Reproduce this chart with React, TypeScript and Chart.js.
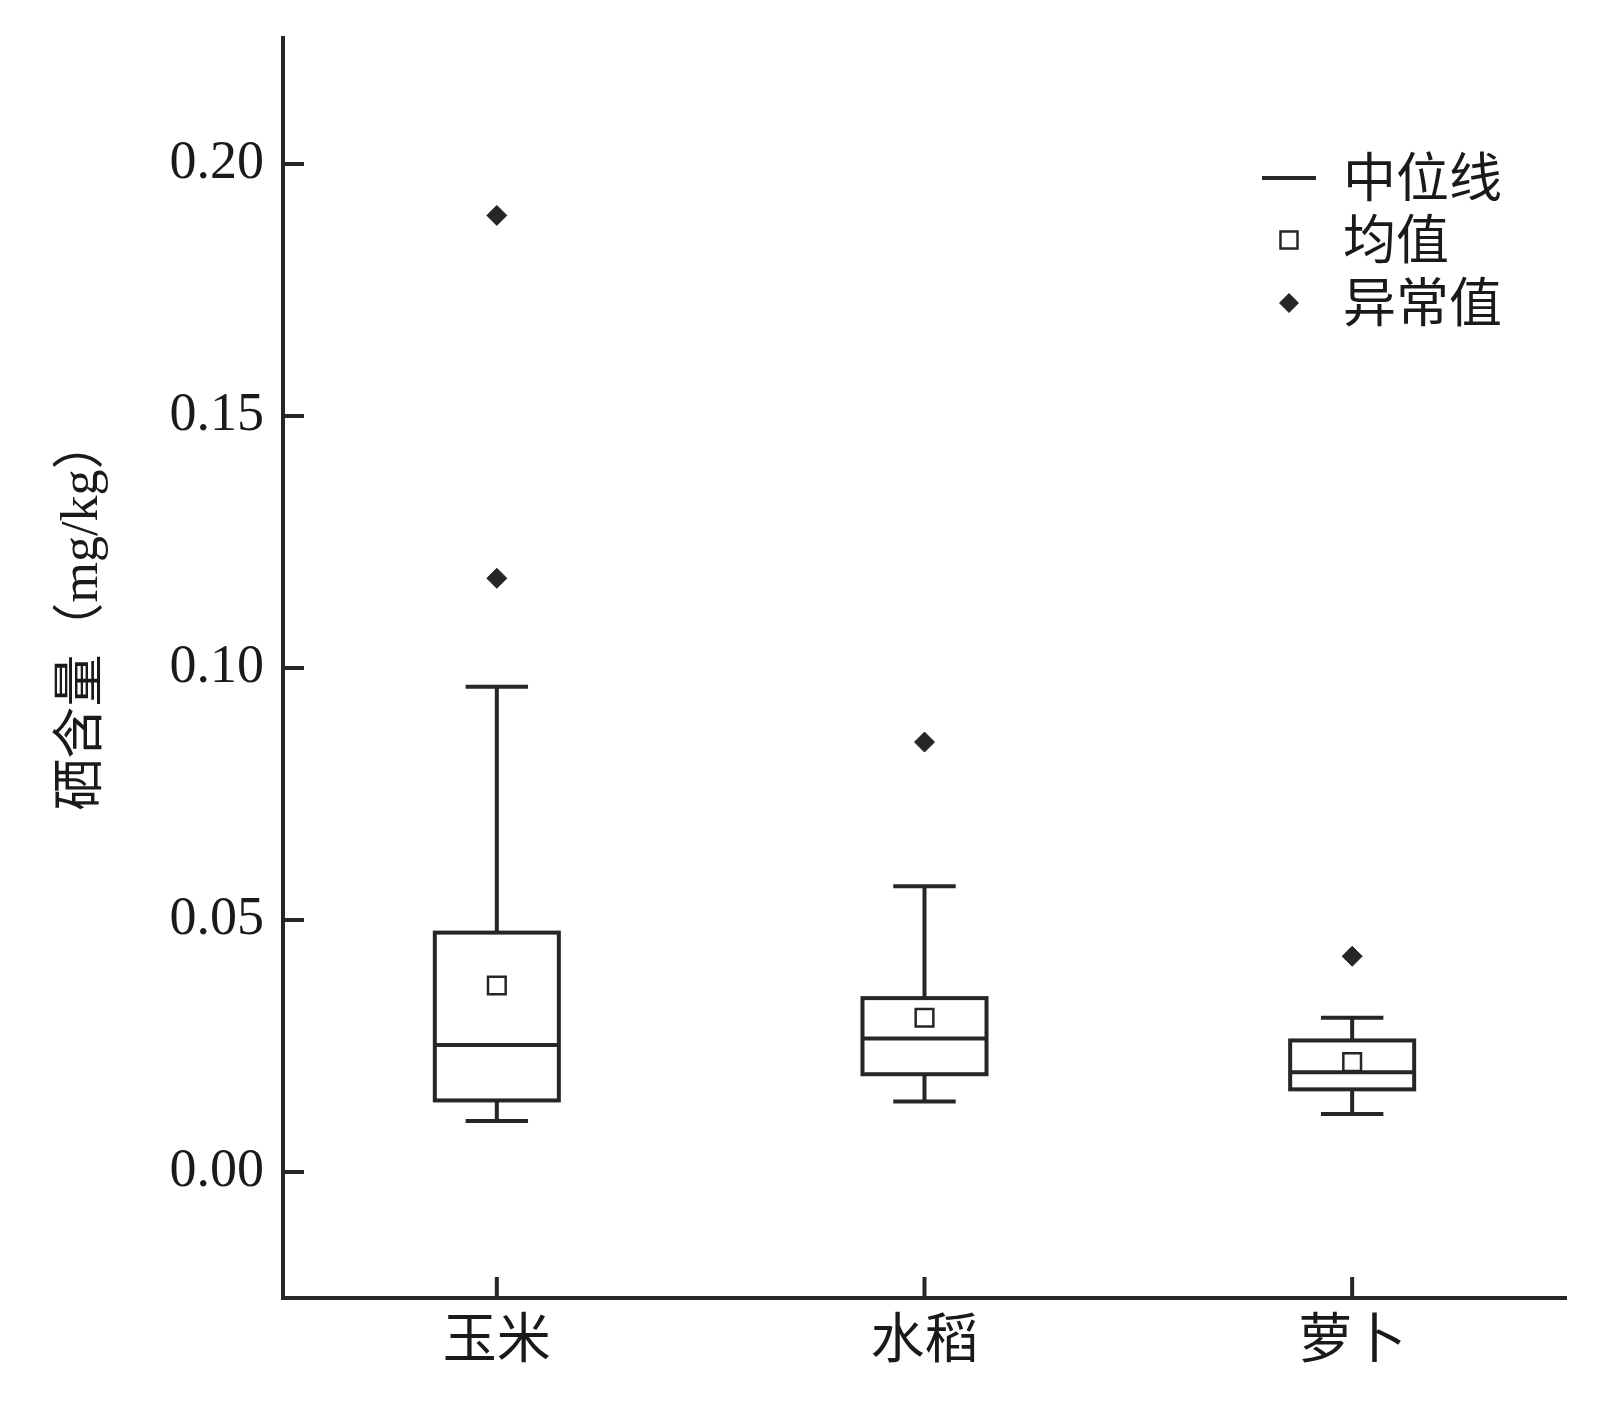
import React, { useEffect, useRef } from 'react';
import { Chart, registerables } from 'chart.js';

Chart.register(...registerables);

// ---- data ----
const categories = ['玉米', '水稻', '萝卜'];
const whiskerMin = [0.0101, 0.014, 0.0115];
const q1 = [0.0142, 0.0194, 0.0164];
const median = [0.0252, 0.0265, 0.0198];
const q3 = [0.0475, 0.0345, 0.0261];
const whiskerMax = [0.0963, 0.0567, 0.0306];
const means = [0.037, 0.0306, 0.0218];
const outlierCategory = ['玉米', '玉米', '水稻', '萝卜'];
const outlierValues = [0.1898, 0.1178, 0.0853, 0.0428];
const yTickValues = [0, 0.05, 0.1, 0.15, 0.2];
const yTitle = '硒含量（mg/kg）';
const legendLabels = ['中位线', '均值', '异常值'];

const INK = '#262626';
const FONT = '"Liberation Serif", "Noto Sans CJK SC", serif';

const boxPlugin = {
  id: 'boxPlugin',
  beforeDatasetsDraw(chart: any) {
    const { ctx, scales } = chart;
    const x = scales.x;
    const y = scales.y;
    const step = x.getPixelForValue(1) - x.getPixelForValue(0);
    const half = step * 0.145;
    const cap = step * 0.073;
    ctx.save();
    ctx.strokeStyle = INK;
    ctx.lineWidth = 4;
    ctx.lineCap = 'butt';
    categories.forEach((_, i) => {
      const cx = x.getPixelForValue(i);
      const yMin = y.getPixelForValue(whiskerMin[i]);
      const yQ1 = y.getPixelForValue(q1[i]);
      const yMed = y.getPixelForValue(median[i]);
      const yQ3 = y.getPixelForValue(q3[i]);
      const yMax = y.getPixelForValue(whiskerMax[i]);
      ctx.beginPath();
      ctx.moveTo(cx, yQ3);
      ctx.lineTo(cx, yMax);
      ctx.moveTo(cx - cap, yMax);
      ctx.lineTo(cx + cap, yMax);
      ctx.moveTo(cx, yQ1);
      ctx.lineTo(cx, yMin);
      ctx.moveTo(cx - cap, yMin);
      ctx.lineTo(cx + cap, yMin);
      ctx.stroke();
      ctx.fillStyle = '#ffffff';
      ctx.fillRect(cx - half, yQ3, half * 2, yQ1 - yQ3);
      ctx.strokeRect(cx - half, yQ3, half * 2, yQ1 - yQ3);
      ctx.beginPath();
      ctx.moveTo(cx - half, yMed);
      ctx.lineTo(cx + half, yMed);
      ctx.stroke();
    });
    ctx.restore();
  },
  afterDraw(chart: any) {
    const { ctx, scales, chartArea } = chart;
    const x = scales.x;
    const y = scales.y;
    ctx.save();
    ctx.strokeStyle = INK;
    ctx.lineWidth = 4;
    ctx.beginPath();
    yTickValues.forEach((v) => {
      const py = y.getPixelForValue(v);
      ctx.moveTo(chartArea.left, py);
      ctx.lineTo(chartArea.left + 21, py);
    });
    categories.forEach((_, i) => {
      const px = x.getPixelForValue(i);
      ctx.moveTo(px, chartArea.bottom);
      ctx.lineTo(px, chartArea.bottom - 21);
    });
    ctx.stroke();

    // y title
    ctx.fillStyle = '#1a1a1a';
    ctx.font = `52px ${FONT}`;
    ctx.textAlign = 'center';
    ctx.textBaseline = 'middle';
    ctx.save();
    ctx.translate(83, 614);
    ctx.rotate(-Math.PI / 2);
    ctx.fillText(yTitle, 0, 0);
    ctx.restore();

    // legend
    const lx = 1289;
    const rows = [178, 240, 303];
    const tx = 1343;
    ctx.lineWidth = 4;
    ctx.beginPath();
    ctx.moveTo(lx - 27, rows[0]);
    ctx.lineTo(lx + 27, rows[0]);
    ctx.stroke();
    ctx.lineWidth = 2.5;
    ctx.fillStyle = '#ffffff';
    ctx.fillRect(lx - 8.5, rows[1] - 8.5, 17, 17);
    ctx.strokeRect(lx - 8.5, rows[1] - 8.5, 17, 17);
    ctx.fillStyle = INK;
    ctx.beginPath();
    ctx.moveTo(lx, rows[2] - 10);
    ctx.lineTo(lx + 10, rows[2]);
    ctx.lineTo(lx, rows[2] + 10);
    ctx.lineTo(lx - 10, rows[2]);
    ctx.closePath();
    ctx.fill();
    ctx.fillStyle = '#1a1a1a';
    ctx.font = `53px ${FONT}`;
    ctx.textAlign = 'left';
    ctx.textBaseline = 'middle';
    legendLabels.forEach((t, i) => ctx.fillText(t, tx, rows[i] + 5));
    ctx.restore();
  },
};

export default function App() {
  const canvasRef = useRef<HTMLCanvasElement>(null);

  useEffect(() => {
    document.body.style.margin = '0';
    document.body.style.overflow = 'hidden';
    const canvas = canvasRef.current;
    if (!canvas) return;
    const chart = new Chart(canvas, {
      type: 'line',
      data: {
        labels: categories,
        datasets: [
          {
            label: '均值',
            data: means,
            showLine: false,
            pointStyle: 'rect',
            pointRadius: 12.5,
            pointBorderWidth: 2.5,
            pointBackgroundColor: '#ffffff',
            pointBorderColor: INK,
            borderColor: INK,
          },
          {
            label: '异常值',
            data: outlierCategory.map((c, i) => ({ x: c, y: outlierValues[i] })),
            showLine: false,
            pointStyle: 'rectRot',
            pointRadius: 10,
            pointBorderWidth: 1,
            pointBackgroundColor: INK,
            pointBorderColor: INK,
            borderColor: INK,
          },
        ],
      },
      options: {
        animation: false,
        responsive: true,
        maintainAspectRatio: false,
        devicePixelRatio: 1,
        layout: { padding: { top: 38, right: 44, bottom: 0, left: 0 } },
        plugins: {
          legend: { display: false },
          tooltip: { enabled: false },
        },
        scales: {
          x: {
            type: 'category',
            offset: true,
            grid: { display: false },
            border: { display: true, color: INK, width: 4 },
            ticks: {
              color: '#1a1a1a',
              padding: 5,
              font: { family: FONT, size: 54 },
              maxRotation: 0,
            },
            afterFit: (scale: any) => {
              scale.height = 104;
              scale.paddingLeft = 0;
              scale.paddingRight = 0;
            },
          },
          y: {
            type: 'linear',
            min: -0.025,
            max: 0.225,
            grid: { display: false },
            border: { display: true, color: INK, width: 4 },
            afterBuildTicks: (scale: any) => {
              scale.ticks = yTickValues.map((v) => ({ value: v }));
            },
            ticks: {
              color: '#1a1a1a',
              padding: 11,
              font: { family: FONT, size: 54 },
              callback: (v: any) => Number(v).toFixed(2),
            },
            afterFit: (scale: any) => {
              scale.width = 283;
              scale.paddingTop = 0;
              scale.paddingBottom = 0;
            },
          },
        },
      },
      plugins: [boxPlugin],
    });
    return () => chart.destroy();
  }, []);

  return (
    <div style={{ position: 'absolute', left: 0, top: 0, width: '1610px', height: '1402px', background: '#fff' }}>
      <canvas ref={canvasRef} />
    </div>
  );
}
